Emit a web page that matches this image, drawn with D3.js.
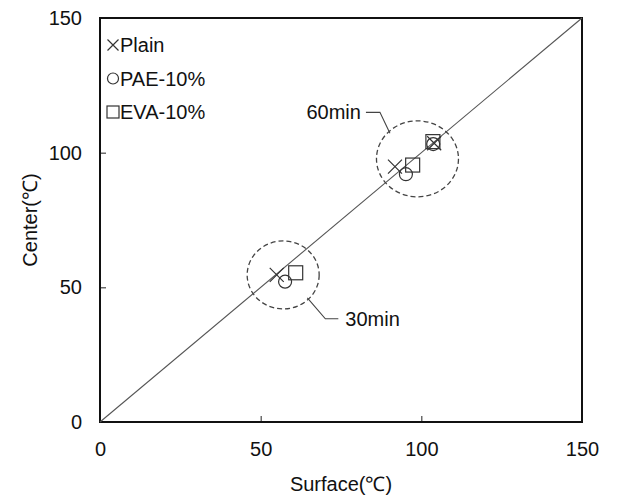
<!DOCTYPE html>
<html>
<head>
<meta charset="utf-8">
<script src="https://cdn.jsdelivr.net/npm/d3@7/dist/d3.min.js"></script>
<style>
  body { margin: 0; background: #fff; }
  text { font-family: "Liberation Sans", Arial, sans-serif; fill: #111; }
</style>
</head>
<body>
<svg id="chart" width="617" height="500"></svg>
<script>
// values (surface, center) in degC
var times = ['30min', '60min', 'end'];
var plainX = [55.0, 91.8, 104.0];
var plainY = [54.6, 94.8, 103.5];
var paeX = [57.6, 95.2, 103.7];
var paeY = [52.1, 92.0, 103.2];
var evaX = [60.9, 97.3, 103.6];
var evaY = [55.4, 95.4, 104.1];
var seriesNames = ['Plain', 'PAE-10%', 'EVA-10%'];
var tickValues = [0, 50, 100, 150];
var lineOfEquality = [0, 150];
// dashed groups: label, centre (surface, center)
var groupLabels = ['30min', '60min'];
var groupX = [57.0, 98.8];
var groupY = [54.6, 97.7];

var svg = d3.select('#chart');
var padding = {t: 18, r: 35, b: 78, l: 100};
var width = 617 - padding.l - padding.r;
var height = 500 - padding.t - padding.b;

var x = d3.scaleLinear().domain([0, 150]).range([0, width]);
var y = d3.scaleLinear().domain([0, 150]).range([height, 0]);

var g = svg.append('g')
    .attr('transform', 'translate(' + padding.l + ',' + padding.t + ')');

// axes, ticks point inward
var xAxis = d3.axisBottom(x).tickValues(tickValues).tickSizeInner(-6).tickSizeOuter(0).tickPadding(20);
var yAxis = d3.axisLeft(y).tickValues(tickValues).tickSizeInner(-6).tickSizeOuter(0).tickPadding(18);

var gx = g.append('g').attr('transform', 'translate(0,' + height + ')').call(xAxis);
var gy = g.append('g').call(yAxis);
[gx, gy].forEach(function(a) {
  a.select('.domain').remove();
  a.selectAll('line').attr('stroke', '#222').attr('stroke-width', 1);
  a.selectAll('.tick').filter(function(d) { return d == 0 || d == 150; }).select('line').remove();
  a.selectAll('text').style('font-size', '20px').attr('fill', '#111');
});

// frame
g.append('rect')
  .attr('width', width).attr('height', height)
  .attr('fill', 'none').attr('stroke', '#111').attr('stroke-width', 2);

// y = x line
g.append('line')
  .attr('x1', x(lineOfEquality[0])).attr('y1', y(lineOfEquality[0]))
  .attr('x2', x(lineOfEquality[1])).attr('y2', y(lineOfEquality[1]))
  .attr('stroke', '#555').attr('stroke-width', 1.1);

// dashed groups
var rx = [36, 41], ry = [34, 38];
groupLabels.forEach(function(lbl, i) {
  g.append('ellipse')
    .attr('cx', x(groupX[i])).attr('cy', y(groupY[i]))
    .attr('rx', rx[i]).attr('ry', ry[i])
    .attr('fill', 'none').attr('stroke', '#444').attr('stroke-width', 1.3)
    .attr('stroke-dasharray', '5,3');
});

// leader lines and labels
var a45 = Math.PI / 4;
var cx30 = x(groupX[0]), cy30 = y(groupY[0]);
var s30x = cx30 + rx[0] * Math.cos(a45) * 0.95, s30y = cy30 + ry[0] * Math.sin(a45) * 0.95;
g.append('polyline')
  .attr('points', [[s30x, s30y], [s30x + 18, s30y + 21], [s30x + 31, s30y + 21]].join(' '))
  .attr('fill', 'none').attr('stroke', '#444').attr('stroke-width', 1.1);
g.append('text').attr('x', s30x + 38).attr('y', s30y + 21).attr('dy', '0.35em')
  .style('font-size', '20px').text(groupLabels[0]);

var cx60 = x(groupX[1]), cy60 = y(groupY[1]);
var s60x = cx60 - rx[1] * Math.cos(a45) * 0.95, s60y = cy60 - ry[1] * Math.sin(a45) * 0.95;
g.append('polyline')
  .attr('points', [[s60x, s60y], [s60x - 10, s60y - 21], [s60x - 24, s60y - 21]].join(' '))
  .attr('fill', 'none').attr('stroke', '#444').attr('stroke-width', 1.1);
g.append('text').attr('x', s60x - 29).attr('y', s60y - 21).attr('dy', '0.35em')
  .attr('text-anchor', 'end').style('font-size', '20px').text(groupLabels[1]);

// markers
var markStroke = '#333';
function cross(sel, px, py, h) {
  sel.append('path')
    .attr('d', 'M' + (px - h) + ',' + (py - h) + 'L' + (px + h) + ',' + (py + h) +
               'M' + (px - h) + ',' + (py + h) + 'L' + (px + h) + ',' + (py - h))
    .attr('stroke', markStroke).attr('stroke-width', 1.2).attr('fill', 'none');
}
function circ(sel, px, py, r) {
  sel.append('circle').attr('cx', px).attr('cy', py).attr('r', r)
    .attr('fill', 'none').attr('stroke', markStroke).attr('stroke-width', 1.2);
}
function sq(sel, px, py, h) {
  sel.append('rect').attr('x', px - h).attr('y', py - h).attr('width', 2 * h).attr('height', 2 * h)
    .attr('fill', 'none').attr('stroke', markStroke).attr('stroke-width', 1.2);
}

var pts = g.append('g');
times.forEach(function(t, i) {
  cross(pts, x(plainX[i]), y(plainY[i]), 7);
  circ(pts, x(paeX[i]), y(paeY[i]), 6.5);
  sq(pts, x(evaX[i]), y(evaY[i]), 7);
});

// legend
var leg = g.append('g').attr('transform', 'translate(13,27)');
var markers = [cross, circ, sq];
var msize = [5.5, 5.5, 6];
seriesNames.forEach(function(name, i) {
  var row = leg.append('g').attr('transform', 'translate(0,' + (i * 33.5) + ')');
  markers[i](row, 0, 0, msize[i]);
  row.append('text').attr('x', 7).attr('dy', '0.35em')
    .style('font-size', '20px').text(name);
});

// axis titles
svg.append('text')
  .attr('x', padding.l + width / 2).attr('y', 484)
  .attr('text-anchor', 'middle').attr('dy', '0.35em')
  .style('font-size', '20px').text('Surface(℃)');
svg.append('text')
  .attr('transform', 'translate(30,' + (padding.t + height / 2) + ') rotate(-90)')
  .attr('text-anchor', 'middle').attr('dy', '0.35em')
  .style('font-size', '20px').text('Center(℃)');
</script>
</body>
</html>
